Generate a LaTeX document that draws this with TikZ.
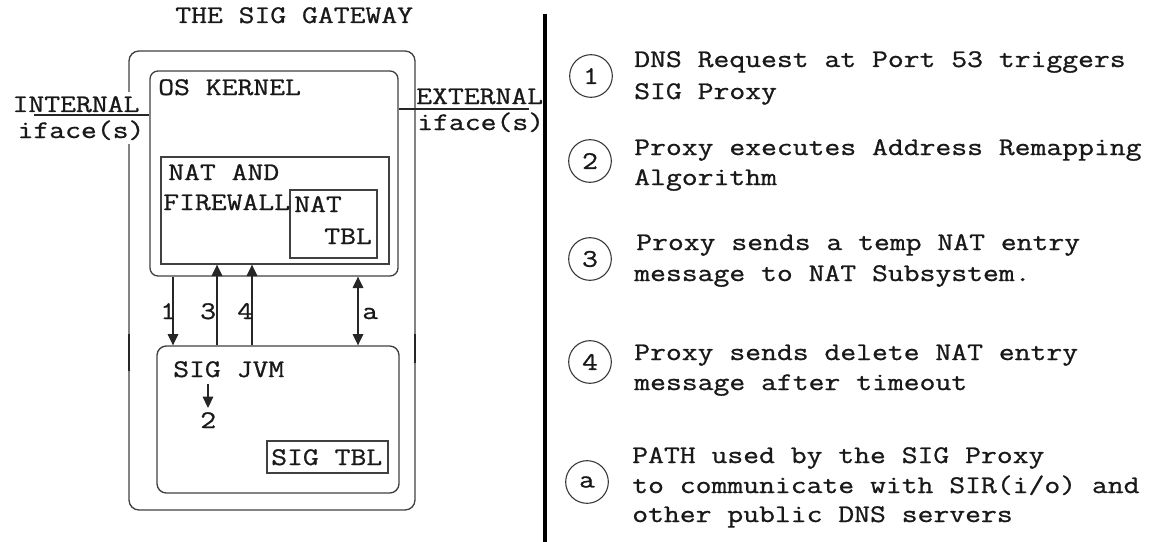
\documentclass[tikz,border=0pt]{standalone}
\usepackage{fontspec}
\setmonofont{Latin Modern Mono}[FakeStretch=1.215,FakeBold=0.9]
\usetikzlibrary{arrows.meta,fit}
\begin{document}
\begin{tikzpicture}[x=0.75pt,y=-0.75pt,
  every node/.style={font=\ttfamily\fontsize{19}{23}\selectfont, inner sep=0pt, text=black!90},
  txt/.style={anchor=base west},
  frame/.style={draw=black!75, line width=1pt, inner sep=0pt},
  wire/.style={draw=black!85, line width=0.9pt},
  tip/.style={-{Triangle[length=8.5pt,width=8pt]}},
  tips/.style={{Triangle[length=8.5pt,width=8pt]}-{Triangle[length=8.5pt,width=8pt]}},
  badge/.style={draw=black!80, line width=0.8pt, circle, minimum size=32pt, inner sep=0pt},
  mask/.style={txt, fill=white, inner xsep=1pt, inner ysep=3pt},
]
\useasboundingbox (0,0) rectangle (1153,542);

% ---------- the gateway and its parts ----------
\node[txt] (title) at (175,23) {THE SIG GATEWAY};

\node[frame, rounded corners=7.5pt, fit={(129,51) (415,510)}] (gateway) {};
\node[frame, rounded corners=6pt, fit={(150,71) (398,276)}] (kernel) {};
\node[frame, fit={(161,157) (389,264)}] (nat) {};
\node[frame, fit={(290,190) (377,258)}] (nattbl) {};
\node[frame, rounded corners=7pt, fit={(157,346) (399,493)}] (jvm) {};
\node[frame, fit={(267,441) (388,473)}] (sigtbl) {};

% heavier stretches on the gateway walls
\coordinate (wl1) at (129,334); \coordinate (wl2) at (129,371);
\coordinate (wr1) at (415,334); \coordinate (wr2) at (415,363);
\draw[draw=black!85, line width=2.2pt] (wl1) -- (wl2);
\draw[draw=black!85, line width=2.2pt] (wr1) -- (wr2);

\node[txt] (oskernel) at (158,95) {OS KERNEL};
\node[txt] (natand) at (168,180) {NAT AND};
\node[txt] (firewall) at (163,210) {FIREWALL};
\node[txt] (natlbl) at (294,212) {NAT};
\node[txt] (tbllbl) at (324,244) {TBL};
\node[txt] (sigjvm) at (173,377) {SIG JVM};
\node[txt] (two) at (200,428) {2};
\node[txt] (sigtbllbl) at (271,465) {SIG TBL};

% interfaces
\node[mask] (internal) at (11,112) {INTERNAL};
\node[mask] (ifin) at (16,138) {iface(s)};
\node[txt] (external) at (416,104) {EXTERNAL};
\node[txt] (ifout) at (417,130) {iface(s)};
\coordinate (inend) at (34,115);
\coordinate (outend) at (529,109);
\draw[wire] (inend) -- (inend -| kernel.west);
\draw[wire] (outend -| kernel.east) -- (outend);

% message paths between kernel and JVM
\coordinate (p1) at (173,0);
\coordinate (p3) at (217,0);
\coordinate (p4) at (252,0);
\coordinate (pa) at (358,0);
\draw[wire, tip] (kernel.south -| p1) -- (jvm.north -| p1);
\draw[wire, tip] (jvm.north -| p3) -- (nat.south -| p3);
\draw[wire, tip] (jvm.north -| p4) -- (nat.south -| p4);
\draw[wire, tips] (kernel.south -| pa) -- (jvm.north -| pa);
\node[txt] (l1) at (160,319) {1};
\node[txt] (l3) at (200,319) {3};
\node[txt] (l4) at (237,319) {4};
\node[txt] (la) at (362,319) {a};

\coordinate (p2) at (208,0);
\draw[wire, tip] ([yshift=-5pt]sigjvm.south -| p2) -- ([yshift=3pt]two.north -| p2);

% ---------- divider ----------
\coordinate (dtop) at (545,14);
\coordinate (dbot) at (545,542);
\draw[line width=2.4pt] (dtop) -- (dbot);

% ---------- legend ----------
\node[badge] (b1) at (591,76) {1};
\node[badge] (b2) at (590,161) {2};
\node[badge] (b3) at (590,259) {3};
\node[badge] (b4) at (590,362) {4};
\node[badge] (ba) at (587,482) {a};

\node[txt] (t1a) at (634,67) {DNS Request at Port 53 triggers};
\node[txt] (t1b) at (634,99) {SIG Proxy};
\node[txt] (t2a) at (634,155) {Proxy executes Address Remapping};
\node[txt] (t2b) at (634,185) {Algorithm};
\node[txt] (t3a) at (636,250) {Proxy sends a temp NAT entry};
\node[txt] (t3b) at (634,281) {message to NAT Subsystem.};
\node[txt] (t4a) at (634,360) {Proxy sends delete NAT entry};
\node[txt] (t4b) at (634,390) {message after timeout};
\node[txt] (t5a) at (632,463) {PATH used by the SIG Proxy};
\node[txt] (t5b) at (632,493) {to communicate with SIR(i/o) and};
\node[txt] (t5c) at (632,522) {other public DNS servers};
\end{tikzpicture}
\end{document}
